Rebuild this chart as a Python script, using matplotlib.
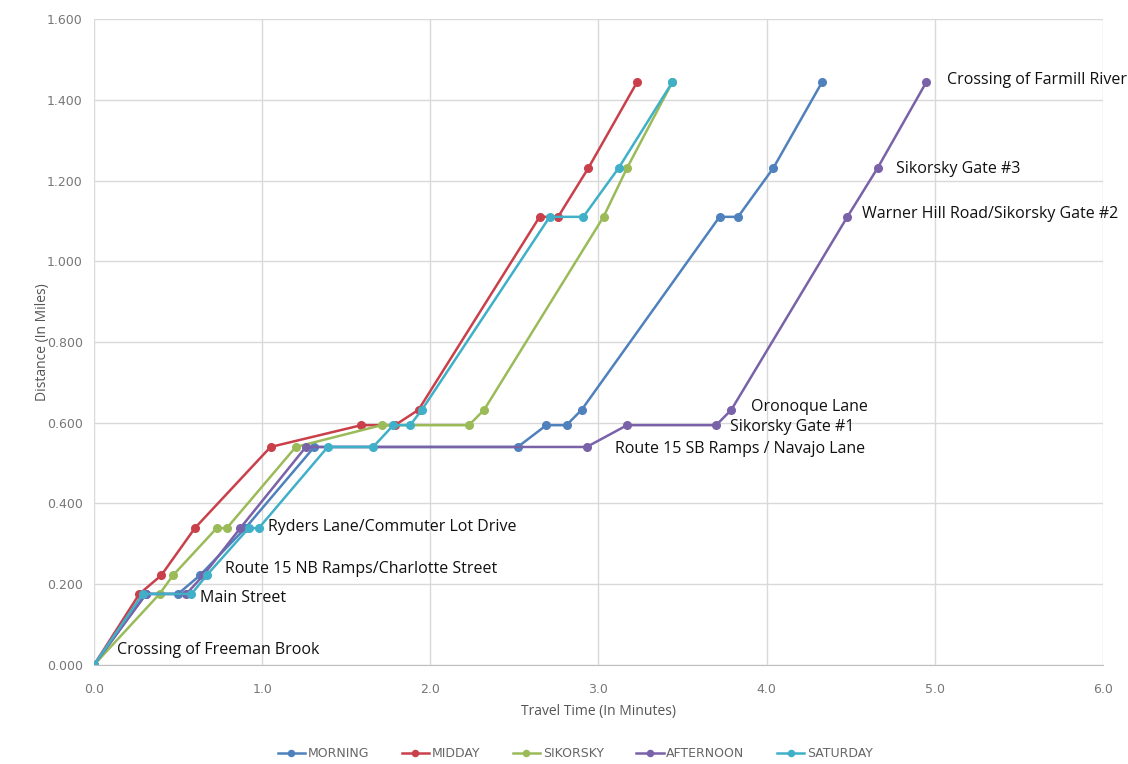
import matplotlib.pyplot as plt

# travel time (minutes) / distance (miles) per period
morning_t = [0.0, 0.31, 0.50, 0.63, 0.90, 1.31, 2.52, 2.69, 2.81, 2.90, 3.72, 3.83, 4.04, 4.33]
morning_d = [0.0, 0.176, 0.176, 0.222, 0.339, 0.540, 0.540, 0.594, 0.594, 0.632, 1.110, 1.110, 1.231, 1.444]

midday_t = [0.0, 0.27, 0.40, 0.60, 1.05, 1.59, 1.79, 1.93, 2.65, 2.76, 2.94, 3.23]
midday_d = [0.0, 0.176, 0.222, 0.339, 0.540, 0.594, 0.594, 0.632, 1.110, 1.110, 1.231, 1.444]

sikorsky_t = [0.0, 0.39, 0.47, 0.73, 0.79, 1.20, 1.71, 2.23, 2.32, 3.03, 3.17, 3.44]
sikorsky_d = [0.0, 0.176, 0.222, 0.339, 0.339, 0.540, 0.594, 0.594, 0.632, 1.110, 1.231, 1.444]

afternoon_t = [0.0, 0.31, 0.55, 0.65, 0.87, 1.26, 2.93, 3.17, 3.70, 3.79, 4.48, 4.66, 4.95]
afternoon_d = [0.0, 0.176, 0.176, 0.222, 0.339, 0.540, 0.540, 0.594, 0.594, 0.632, 1.110, 1.231, 1.444]

saturday_t = [0.0, 0.29, 0.58, 0.67, 0.92, 0.98, 1.39, 1.66, 1.78, 1.88, 1.95, 2.71, 2.91, 3.12, 3.44]
saturday_d = [0.0, 0.176, 0.176, 0.222, 0.339, 0.339, 0.540, 0.540, 0.594, 0.594, 0.632, 1.110, 1.110, 1.231, 1.444]

series = [
    ("MORNING", morning_t, morning_d, "#4F81BD"),
    ("MIDDAY", midday_t, midday_d, "#C9404B"),
    ("SIKORSKY", sikorsky_t, sikorsky_d, "#9BBB59"),
    ("AFTERNOON", afternoon_t, afternoon_d, "#7A62A8"),
    ("SATURDAY", saturday_t, saturday_d, "#3FB0C8"),
]

stations = ["Crossing of Freeman Brook", "Main Street", "Route 15 NB Ramps/Charlotte Street",
            "Ryders Lane/Commuter Lot Drive", "Route 15 SB Ramps / Navajo Lane", "Sikorsky Gate #1",
            "Oronoque Lane", "Warner Hill Road/Sikorsky Gate #2", "Sikorsky Gate #3",
            "Crossing of Farmill River"]
# where each station label sits on the chart
label_pos = [(0.137, 0.038), (0.63, 0.166), (0.78, 0.238), (1.035, 0.342), (3.10, 0.535),
             (3.78, 0.589), (3.91, 0.639), (4.57, 1.117), (4.77, 1.228), (5.07, 1.449)]

fig = plt.figure(figsize=(11.28, 7.64), dpi=100)
ax = fig.add_axes([0.0833, 0.1296, 0.8945, 0.8455])

for name, t, d, c in series:
    ax.plot(t, d, '-o', color=c, lw=1.8, markersize=5.5, label=name)

for name, (lx, ly) in zip(stations, label_pos):
    ax.text(lx, ly, name, fontsize=11.5, family=["Open Sans", "DejaVu Sans"], color="#111111",
            va="center", ha="left")

ax.set_xlim(0, 6)
ax.set_ylim(0, 1.6)
ax.set_xticks([0, 1, 2, 3, 4, 5, 6])
ax.set_xticklabels(["%.1f" % v for v in range(7)])
ax.set_yticks([i * 0.2 for i in range(9)])
ax.set_yticklabels(["%.3f" % (i * 0.2) for i in range(9)])
ax.tick_params(length=0, labelsize=9, colors="#777777", pad=8)
ax.tick_params(axis="x", pad=13)
ax.grid(True, color="#D9D9D9", lw=1)
ax.set_axisbelow(True)
for s in ["top", "right", "left"]:
    ax.spines[s].set_visible(False)
ax.spines["bottom"].set_color("#BFBFBF")

ax.set_xlabel("Travel Time (In Minutes)", fontsize=10, color="#555555", labelpad=6,
              family=["Open Sans", "DejaVu Sans"])
ax.set_ylabel("Distance (In Miles)", fontsize=10, color="#555555", labelpad=-2,
              family=["Open Sans", "DejaVu Sans"])

leg = fig.legend(loc="lower center", bbox_to_anchor=(0.51, -0.01), ncol=5, frameon=False,
                 fontsize=9, labelcolor="#666666", handlelength=2.2, columnspacing=2.6,
                 handletextpad=0.2, markerscale=0.8)

plt.savefig("out.png", dpi=100)
